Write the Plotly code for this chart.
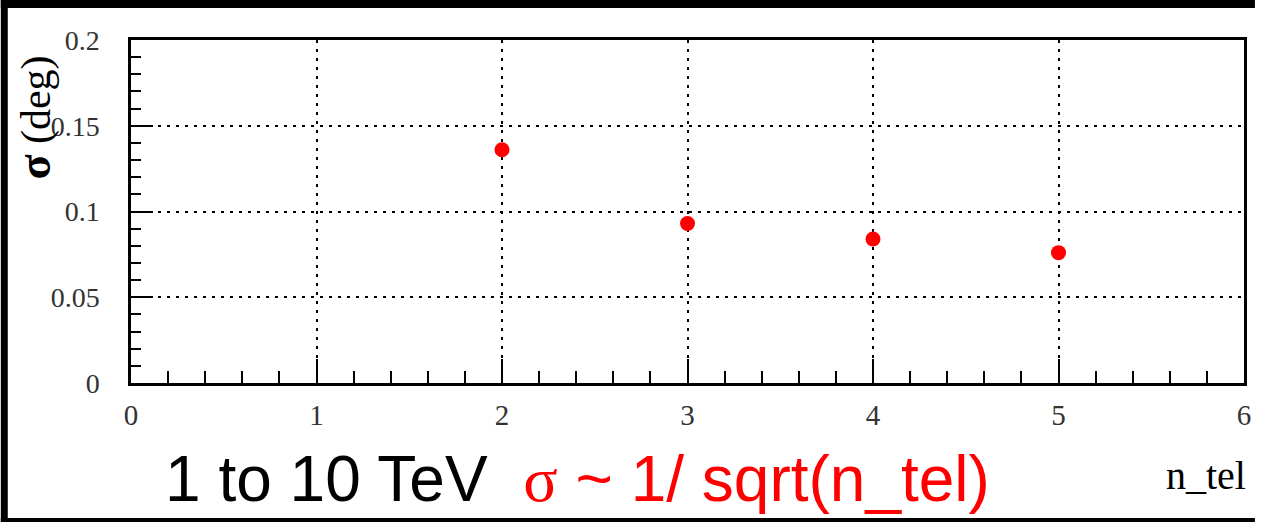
import plotly.graph_objects as go

# Angular resolution versus number of telescopes
n_tel = [2, 3, 4, 5]
sigma_deg = [0.136, 0.093, 0.084, 0.076]

x_ticks = [0, 1, 2, 3, 4, 5, 6]
x_tick_text = ["0", "1", "2", "3", "4", "5", "6"]
y_ticks = [0, 0.05, 0.1, 0.15, 0.2]
y_tick_text = ["0", "0.05", "0.1", "0.15", "0.2"]

W, H = 1262, 522
L, R, T, B = 131, 11, 40, 139
PW, PH = W - L - R, H - T - B


def px(xp):
    return (xp - L) / PW


def py(yp):
    return (H - B - yp) / PH


fig = go.Figure()
fig.add_trace(go.Scatter(
    x=n_tel, y=sigma_deg, mode="markers",
    marker=dict(symbol="circle", size=15, color="#ff0000", line=dict(width=0)),
    showlegend=False, hoverinfo="x+y",
))

serif = "Liberation Serif"
axis_common = dict(
    showline=True, linecolor="black", linewidth=2.5, mirror=True,
    ticks="inside", tickcolor="black", tickwidth=2,
    showgrid=True, gridcolor="black", gridwidth=2, griddash="3px,6px",
    zeroline=False,
)

fig.update_xaxes(
    range=[0, 6], tickvals=x_ticks, ticktext=x_tick_text, ticklen=24,
    minor=dict(dtick=0.2, ticklen=12, ticks="inside", tickcolor="black",
               tickwidth=2, showgrid=False),
    ticklabelstandoff=4,
    tickfont=dict(family=serif, size=29, color="#333"),
    **axis_common,
)
fig.update_yaxes(
    range=[0, 0.2], tickvals=y_ticks, ticktext=y_tick_text, ticklen=22,
    minor=dict(dtick=0.01, ticklen=10, ticks="inside", tickcolor="black",
               tickwidth=2, showgrid=False),
    ticklabelstandoff=23,
    tickfont=dict(family=serif, size=28, color="#333"),
    **axis_common,
)

# dark frame along the top, left and bottom edges of the page
frame = [(0, W, 0, 8), (0, 7, 0, H), (0, W, 518, H)]
for x0, x1, y0, y1 in frame:
    fig.add_shape(type="rect", xref="paper", yref="paper",
                  x0=px(x0), x1=px(x1), y0=py(y1), y1=py(y0),
                  fillcolor="black", line=dict(width=0), layer="below")

# y-axis title
fig.add_annotation(
    xref="paper", yref="paper", x=px(33), y=py(118),
    text="<b><span style='font-size:46px'>σ</span></b> (deg)",
    textangle=-90, showarrow=False,
    font=dict(family=serif, size=42, color="black"),
    xanchor="center", yanchor="middle",
)
# x-axis title
fig.add_annotation(
    xref="paper", yref="paper", x=px(1255), y=py(475),
    text="n_tel", showarrow=False,
    font=dict(family=serif, size=40, color="black"),
    xanchor="right", yanchor="middle",
)
# energy range and scaling note
fig.add_annotation(
    xref="paper", yref="paper", x=px(163), y=py(479),
    text=("1 to 10 TeV  <span style='color:#ff0000'>"
          "<span style='font-family:Liberation Serif'>σ</span>"
          " ~ 1/ sqrt(n_tel)</span>"),
    showarrow=False,
    font=dict(family="Liberation Sans", size=64, color="black"),
    xanchor="left", yanchor="middle",
)

fig.update_layout(
    width=W, height=H,
    margin=dict(l=L, r=R, t=T, b=B, pad=0),
    paper_bgcolor="white", plot_bgcolor="white",
)

fig.write_html("out.html")
